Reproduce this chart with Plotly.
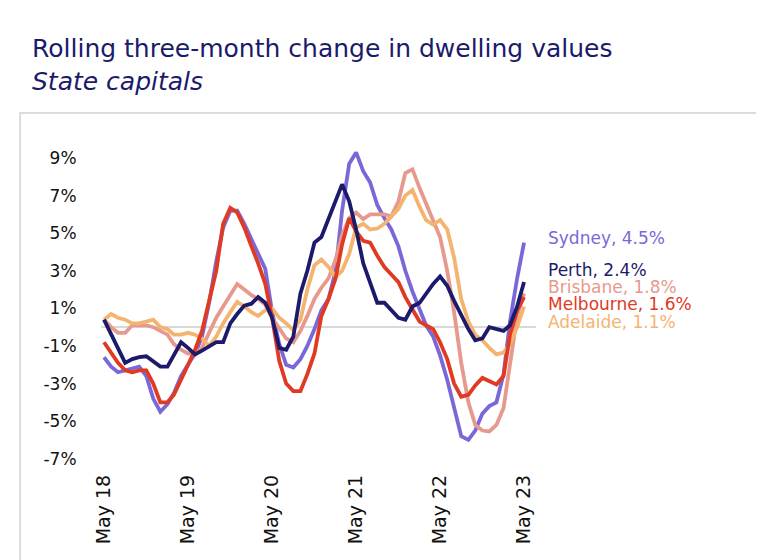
import pandas as pd
import plotly.graph_objects as go

# monthly, May 2018 - May 2023
months = pd.date_range("2018-05-01", periods=61, freq="MS")

sydney = [-1.6, -2.1, -2.4, -2.3, -2.2, -2.1, -2.6, -3.8, -4.5, -4.1,
          -3.5, -2.6, -2.0, -1.4, -0.5, 1.3, 3.5, 5.3, 6.2, 6.2,
          5.5, 4.7, 4.0, 3.1, 0.8, -0.9, -2.0, -2.15, -1.7, -1.0,
          -0.1, 0.9, 1.5, 3.0, 6.2, 8.7, 9.3, 8.3, 7.7, 6.5,
          5.8, 5.2, 4.3, 3.0, 1.9, 1.0, 0.1, -0.5, -1.5, -2.8,
          -4.3, -5.8, -6.0, -5.5, -4.6, -4.2, -4.0, -2.5, 0.3, 2.6,
          4.5]
perth = [0.4, -0.4, -1.1, -1.9, -1.7, -1.6, -1.55, -1.8, -2.1, -2.1,
         -1.5, -0.8, -1.1, -1.45, -1.25, -1.0, -0.8, -0.8, 0.2, 0.7,
         1.15, 1.25, 1.6, 1.3, 0.5, -1.1, -1.2, -0.5, 1.8, 3.0,
         4.5, 4.8, 5.8, 6.7, 7.6, 6.7, 5.2, 3.4, 2.4, 1.3,
         1.3, 0.9, 0.5, 0.4, 1.1, 1.3, 1.8, 2.3, 2.7, 2.2,
         1.4, 0.6, -0.1, -0.7, -0.6, 0.0, -0.1, -0.2, 0.1, 1.1,
         2.4]
brisbane = [0.4, 0.0, -0.3, -0.3, 0.1, 0.1, 0.1, 0.0, -0.2, -0.4,
            -0.9, -1.2, -1.4, -1.4, -1.1, -0.3, 0.5, 1.1, 1.7, 2.3,
            2.0, 1.7, 1.5, 1.2, 0.5, -0.1, -0.6, -0.8, -0.2, 0.6,
            1.5, 2.1, 2.6, 3.6, 4.9, 5.8, 6.1, 5.75, 6.0, 6.0,
            6.0, 5.9, 6.7, 8.2, 8.4, 7.4, 6.6, 5.7, 4.8, 3.0,
            0.8, -1.9, -4.0, -5.2, -5.5, -5.55, -5.2, -4.3, -1.9, 0.6,
            1.8]
melbourne = [-0.8, -1.4, -1.9, -2.3, -2.4, -2.3, -2.3, -3.0, -4.0, -4.0,
             -3.6, -2.8, -2.0, -1.2, -0.2, 1.4, 3.0, 5.5, 6.35, 6.1,
             5.3, 4.3, 3.4, 2.3, 0.5, -1.8, -3.0, -3.4, -3.4, -2.5,
             -1.4, 0.6, 1.5, 2.6, 4.4, 5.8, 5.1, 4.6, 4.5, 3.8,
             3.2, 2.8, 2.4, 1.6, 0.9, 0.3, 0.1, -0.1, -0.8, -1.7,
             -3.0, -3.7, -3.6, -3.1, -2.7, -2.9, -3.05, -2.6, -0.4, 0.9,
             1.6]
adelaide = [0.4, 0.7, 0.5, 0.4, 0.2, 0.2, 0.3, 0.4, 0.0, -0.1,
            -0.4, -0.4, -0.3, -0.4, -0.6, -1.0, -0.5, 0.2, 0.8, 1.35,
            1.1, 0.8, 0.6, 0.9, 1.0, 0.5, 0.2, -0.15, 0.4, 2.0,
            3.3, 3.6, 3.2, 2.7, 3.0, 3.9, 5.3, 5.5, 5.2, 5.25,
            5.5, 5.9, 6.3, 7.0, 7.3, 6.4, 5.7, 5.45, 5.7, 5.2,
            3.7, 1.5, 0.3, -0.4, -0.7, -1.1, -1.45, -1.35, -0.9, 0.0,
            1.1]

y_ticks = [-7, -5, -3, -1, 1, 3, 5, 7, 9]
x_ticks = months[::12]

NAVY = "#1b1a6b"
FONT = "DejaVu Sans, sans-serif"

# name, values, colour, label height (data units)
series = [
    ("Sydney", sydney, "#7b68d8", 4.76),
    ("Brisbane", brisbane, "#e8998d", 2.15),
    ("Adelaide", adelaide, "#f4b46f", 0.29),
    ("Melbourne", melbourne, "#e03a22", 1.24),
    ("Perth", perth, NAVY, 3.06),
]

fig = go.Figure()
for name, vals, col, lab_y in series:
    fig.add_trace(go.Scatter(x=months, y=vals, mode="lines", name=name,
                             line=dict(color=col, width=3.8)))
    fig.add_annotation(x=months[-1], y=lab_y, xanchor="left", xshift=22,
                       text=f"{name}, {vals[-1]}%", showarrow=False,
                       font=dict(color=col, size=17))

fig.update_layout(
    width=764, height=560,
    margin=dict(l=93, r=236, t=135, b=98),
    paper_bgcolor="white", plot_bgcolor="white",
    showlegend=False,
    font=dict(family=FONT, color="#222222"),
    title=dict(
        text="Rolling three-month change in dwelling values<br><i>State capitals</i>",
        x=24 / 764, xref="container", xanchor="left",
        y=1 - 49 / 560, yref="container", yanchor="top",
        font=dict(family=FONT, size=25, color=NAVY),
    ),
    shapes=[dict(type="rect", xref="paper", yref="paper",
                 x0=-0.186, x1=1.513, y0=-0.3, y1=1.092,
                 line=dict(color="#dcdcdc", width=2), layer="below")],
)

fig.update_xaxes(
    range=["2018-04-18", "2023-06-22"],
    tickvals=x_ticks, tickformat="%b %y", tickangle=-90,
    showgrid=False, showline=False, zeroline=False,
    ticks="",
    tickfont=dict(size=19, color="#111111"),
)
fig.update_yaxes(
    range=[-7.6, 9.8],
    tickvals=y_ticks, ticktext=[f"{v}%" for v in y_ticks],
    showgrid=False, showline=False,
    zeroline=True, zerolinecolor="#d9d9d9", zerolinewidth=2,
    ticks="outside", ticklen=20, tickcolor="rgba(0,0,0,0)",
    tickfont=dict(size=17, color="#111111"),
)

fig.write_html("out.html")
